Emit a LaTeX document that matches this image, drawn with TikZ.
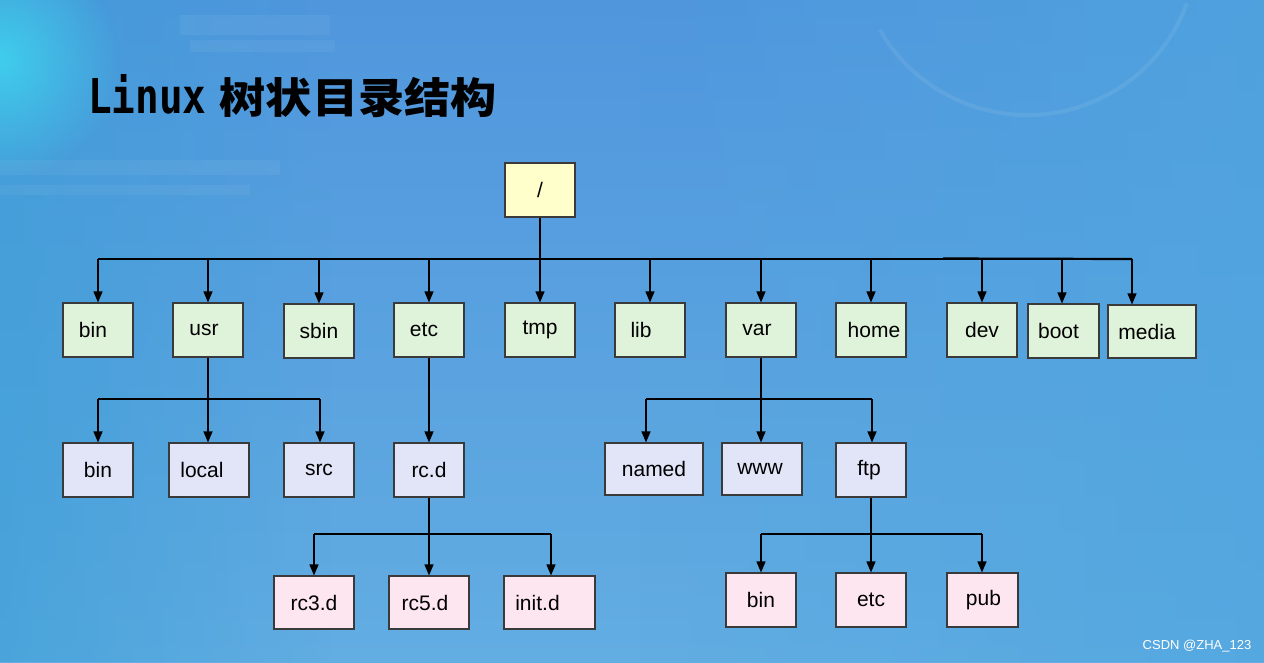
\documentclass[tikz,border=0pt]{standalone}
\usepackage{fontspec}
\setmainfont{Liberation Sans}
\newfontfamily\cjkt[FakeStretch=1.10]{Noto Sans CJK SC}
\newfontfamily\titlemono[FakeStretch=0.82]{DejaVu Sans Mono}
\usetikzlibrary{arrows.meta,fadings}
\definecolor{bgtop}{HTML}{5096DD}
\definecolor{bgmid}{HTML}{80BDE8}
\definecolor{bgbot}{HTML}{62ADE2}
\definecolor{bgright}{HTML}{4FA6DF}
\definecolor{bgleft}{HTML}{3A9FD6}
\definecolor{glowc}{HTML}{3FD6F0}
\definecolor{boxline}{HTML}{3A3A3A}
\definecolor{rootfill}{HTML}{FFFFCC}
\definecolor{greenfill}{HTML}{DFF2DA}
\definecolor{bluefill}{HTML}{E1E5F7}
\definecolor{pinkfill}{HTML}{FEE6F1}
\tikzfading[name=fadeR, left color=transparent!100, right color=transparent!0]
\tikzfading[name=fadeL, left color=transparent!0, right color=transparent!100]
\tikzfading[name=glow, inner color=transparent!0, outer color=transparent!100]
\newcommand\lefttext[2]{#2\kern#1pt}
\newcommand\righttext[2]{\kern#1pt#2}
\begin{document}
\begin{tikzpicture}[x=1pt,y=-1pt,
  box/.style={draw=boxline, line width=1.1pt, minimum height=54pt, inner sep=0pt,
    font=\fontsize{21}{25}\selectfont, text=black},
  rootbox/.style={box, fill=rootfill},
  lvA/.style={box, fill=greenfill},
  lvB/.style={box, fill=bluefill},
  lvC/.style={box, fill=pinkfill},
  link/.style={line width=1.2pt, draw=black},
  arr/.style={link, -{Triangle[length=11pt,width=9pt]}},
]
% background
\useasboundingbox (0,0) rectangle (1264,662);
\fill[top color=bgtop, middle color=bgmid, bottom color=bgbot] (0,0) rectangle (1264,662);
\fill[bgright, path fading=fadeR, opacity=0.7] (640,0) rectangle (1264,662);
\fill[bgleft, path fading=fadeL, opacity=0.6] (0,0) rectangle (330,662);
\fill[glowc, path fading=glow, opacity=0.85] (0,60) circle (120);
\begin{scope}[white, opacity=0.05]
  \fill (180,15) rectangle (330,35);
  \fill (190,40) rectangle (335,52);
  \fill (0,160) rectangle (280,175);
  \fill (0,185) rectangle (250,195);
\end{scope}
\begin{scope}[white, opacity=0.08, line width=4pt]
  \draw (1050,-60) arc[start angle=110, end angle=-20, radius=260];
  \draw (880,30) arc[start angle=150, end angle=20, radius=170];
\end{scope}

% title
\node[anchor=base west, inner sep=0pt, text=black] (title) at (88,113)
  {\fontsize{48}{52}\selectfont\titlemono\bfseries Linux\hspace{13pt}\fontsize{42}{46}\selectfont\cjkt\bfseries 树状目录结构};

% root
\node[rootbox, minimum width=70pt] (root) at (540,190) {/};

% level 1
\node[lvA, minimum width=70pt] (bin)  at (98,330)   {\lefttext{10}{bin}};
\node[lvA, minimum width=70pt] (usr)  at (208,330)  {\lefttext{8}{usr}};
\node[lvA, minimum width=70pt] (sbin) at (319,331)  {sbin};
\node[lvA, minimum width=70pt] (etc)  at (429,330)  {\lefttext{10}{etc}};
\node[lvA, minimum width=70pt] (tmp)  at (540,330) {tmp};
\node[lvA, minimum width=70pt] (lib)  at (650,330)  {\lefttext{18}{lib}};
\node[lvA, minimum width=70pt] (var)  at (761,330)  {\lefttext{8}{var}};
\node[lvA, minimum width=70pt] (home) at (871,330)  {\righttext{6}{home}};
\node[lvA, minimum width=70pt] (dev)  at (982,330)  {dev};
\node[lvA, minimum width=71pt] (boot) at (1063.5,331) {\lefttext{10}{boot}};
\node[lvA, minimum width=88pt, minimum height=53pt] (media) at (1152,331.5) {\lefttext{10}{media}};

% level 2
\node[lvB, minimum width=70pt] (ubin)  at (98,470) {bin};
\node[lvB, minimum width=80pt] (local) at (209,470)  {\lefttext{14}{local}};
\node[lvB, minimum width=70pt] (src)   at (319,470)  {src};
\node[lvB, minimum width=70pt] (rcd)   at (429,470)  {rc.d};
\node[lvB, minimum width=98pt, minimum height=52pt] (named) at (654,469) {named};
\node[lvB, minimum width=80pt, minimum height=52pt] (www)   at (762,469) {\lefttext{4}{www}};
\node[lvB, minimum width=70pt] (ftp)   at (871,470) {\lefttext{4}{ftp}};

% level 3
\node[lvC, minimum width=80pt, minimum height=53pt] (rc3)   at (314,602.5)   {rc3.d};
\node[lvC, minimum width=80pt, minimum height=53pt] (rc5)   at (429,602.5) {\lefttext{8}{rc5.d}};
\node[lvC, minimum width=91pt, minimum height=53pt] (initd) at (549.5,602.5) {\lefttext{24}{init.d}};
\node[lvC, minimum width=70pt] (fbin) at (761,600)   {bin};
\node[lvC, minimum width=70pt] (fetc) at (871,600) {etc};
\node[lvC, minimum width=71pt] (pub)  at (982.5,600) {\righttext{2}{pub}};

% connectors: root
\coordinate (barL) at (98,259);
\coordinate (barR) at (1132,259);
\coordinate (jboot) at (1062,259);
\coordinate (jmedia) at (1132,259);
\draw[link] (barL) -- (barR);
\draw[line width=2.2pt] (943,258.5) -- (barR);
\draw[arr] (root.south) -- (tmp.north);
\foreach \n in {bin,usr,sbin,etc,lib,var,home,dev}
  \draw[arr] (barL -| \n.north) -- (\n.north);
\draw[arr] (jboot) -- (jboot |- boot.north);
\draw[arr] (jmedia) -- (jmedia |- media.north);

% usr
\coordinate (uL) at (98,399);
\coordinate (uR) at (320,399);
\draw[link] (uL) -- (uR);
\draw[arr] (usr.south) -- (usr.south |- local.north);
\draw[arr] (uL) -- (uL |- ubin.north);
\draw[arr] (uR) -- (uR |- src.north);

% etc
\draw[arr] (etc.south) -- (rcd.north);

% rc.d
\coordinate (rL) at (314,534);
\coordinate (rR) at (551,534);
\draw[link] (rL) -- (rR);
\draw[arr] (rcd.south) -- (rcd.south |- rc5.north);
\draw[arr] (rL) -- (rL |- rc3.north);
\draw[arr] (rR) -- (rR |- initd.north);

% var
\coordinate (vL) at (646,399);
\coordinate (vR) at (872,399);
\draw[link] (vL) -- (vR);
\draw[arr] (var.south) -- (var.south |- www.north);
\draw[arr] (vL) -- (vL |- named.north);
\draw[arr] (vR) -- (vR |- ftp.north);

% ftp
\coordinate (fL) at (761,534);
\coordinate (fR) at (982,534);
\draw[link] (fL) -- (fR);
\draw[arr] (ftp.south) -- (ftp.south |- fetc.north);
\draw[arr] (fL) -- (fL |- fbin.north);
\draw[arr] (fR) -- (fR |- pub.north);

% watermark
\node[font=\fontsize{13}{14}\selectfont, text=white] (wm) at (1197,646) {CSDN @ZHA\_123};
\end{tikzpicture}
\end{document}
